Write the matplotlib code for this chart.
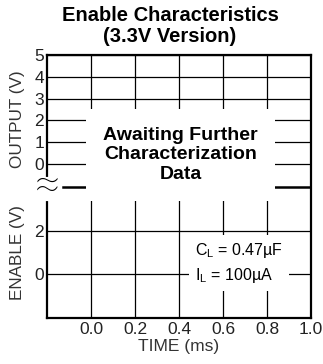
import matplotlib
matplotlib.use("Agg")
import matplotlib.pyplot as plt

plt.rcParams['font.family'] = ['Liberation Sans', 'DejaVu Sans']
plt.rcParams['mathtext.fontset'] = 'custom'
plt.rcParams['mathtext.rm'] = 'Liberation Sans'

# chart content
title = "Enable Characteristics\n(3.3V Version)"
time_ticks = [0.0, 0.2, 0.4, 0.6, 0.8, 1.0]
time_labels = ["0.0", "0.2", "0.4", "0.6", "0.8", "1.0"]
output_ticks = [0, 1, 2, 3, 4, 5]
enable_ticks = [0, 2]
enable_offset = -5.05      # enable panel sits below the output panel
break_level = -1.05        # axis break between the two panels
x_range = (-0.2, 1.0)
y_range = (-7.05, 5.0)
note = "Awaiting Further\nCharacterization\nData"
conditions = ["C$_\\mathregular{L}$ = 0.47\u00b5F", "I$_\\mathregular{L}$ = 100\u00b5A"]

fig = plt.figure(figsize=(3.23, 3.64), dpi=100)
ax = fig.add_axes([47/323, 1-318/364, 264/323, 263/364])
ax.set_xlim(*x_range)
ax.set_ylim(*y_range)

# y ticks: output panel on top, enable panel shifted down
yt = output_ticks + [e + enable_offset for e in enable_ticks]
yl = [str(v) for v in output_ticks] + [str(e) for e in enable_ticks]
ax.set_yticks(yt)
ax.set_yticklabels(yl)
ax.set_xticks(time_ticks)
ax.set_xticklabels(time_labels)
ax.tick_params(length=0, labelsize=12.5, colors='#222222')
ax.tick_params(axis='x', pad=3)
ax.tick_params(axis='y', pad=2)
ax.grid(True, color='black', linewidth=0.9)
for s in ax.spines.values():
    s.set_linewidth(1.6)

# break line, starting a bit right of the axis
ax.axhline(break_level, xmin=0.06, color='black', linewidth=1.8, zorder=1)
# gap in the left axis line plus the break mark
ax.plot([x_range[0], x_range[0]], [break_level - 0.55, break_level + 0.38],
        color='white', linewidth=3, zorder=3, clip_on=False)
ax.text(x_range[0], break_level + 0.02, "\u2248", ha='center', va='center',
        fontsize=32, family=['Roboto', 'Liberation Sans', 'DejaVu Sans'],
        fontweight='light', zorder=4, clip_on=False)

fig.text(170/323, 1-26/364, title, ha='center', va='center',
         fontsize=14.5, fontweight='bold', linespacing=1.12)

ax.set_xlabel("TIME (ms)", fontsize=12.5, color='#333333', labelpad=1)
ax.text(-0.334, 2.06, "OUTPUT (V)", rotation=90, ha='center', va='center',
        fontsize=12.3, color='#333333', clip_on=False)
ax.text(-0.334, -4.06, "ENABLE (V)", rotation=90, ha='center', va='center',
        fontsize=12.3, color='#333333', clip_on=False)

ax.text(0.407, 0.42, note, ha='center', va='center', fontsize=14,
        fontweight='bold', linespacing=1.2, zorder=4,
        bbox=dict(facecolor='white', edgecolor='none', boxstyle='square,pad=0.9'))

ax.text(0.473, -4.54, "\n".join(conditions), ha='left', va='center', fontsize=11.5,
        linespacing=1.45, zorder=4,
        bbox=dict(facecolor='white', edgecolor='none', boxstyle='square,pad=0.35'))

fig.savefig("out.png", dpi=100)
